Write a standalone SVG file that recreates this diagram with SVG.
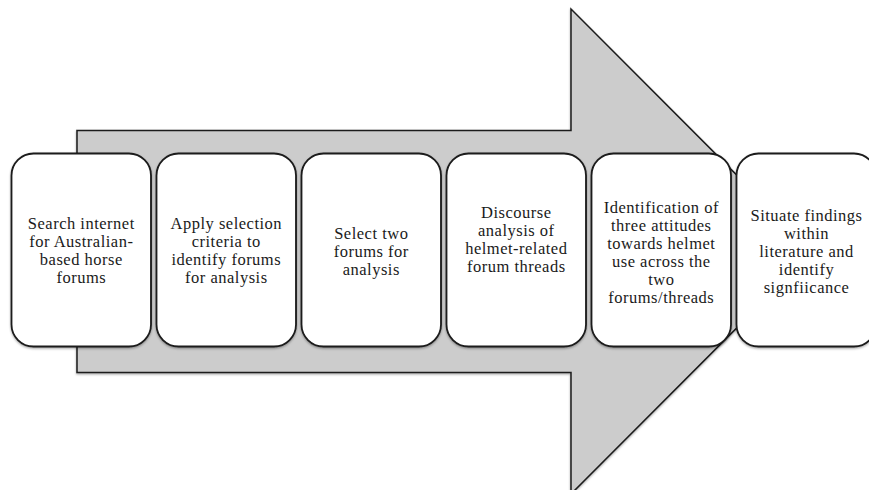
<svg xmlns="http://www.w3.org/2000/svg" width="869" height="490" viewBox="0 0 869 490">
<style>
.box{fill:#ffffff;stroke:#1a1a1a;stroke-width:1.8}
.arrow{fill:#cccccc;stroke:#1a1a1a;stroke-width:1.5;stroke-linejoin:miter}
text{font-family:"Liberation Serif","Times New Roman",serif;font-size:16.5px;letter-spacing:0.5px;fill:#1a1a1a;text-anchor:middle}
</style>
<defs>
<filter id="sh" x="-10%" y="-10%" width="120%" height="120%">
<feDropShadow dx="0" dy="1.2" stdDeviation="1" flood-color="#000" flood-opacity="0.35"/>
</filter>
</defs>
<g id="connectors">
<path class="arrow" filter="url(#sh)" d="M77,130.5 L571,130.5 L571,9 L813,251.5 L571,494 L571,372.5 L77,372.5 Z"/>
</g>
<g id="n1">
<rect class="box" filter="url(#sh)" x="11.5" y="153.5" width="139.5" height="193" rx="22" ry="22"/>
<text x="81.3" y="229">Search internet</text>
<text x="81.3" y="247">for Australian-</text>
<text x="81.3" y="265">based horse</text>
<text x="81.3" y="283">forums</text>
</g>
<g id="n2">
<rect class="box" filter="url(#sh)" x="156.5" y="153.5" width="139.5" height="193" rx="22" ry="22"/>
<text x="226.3" y="229">Apply selection</text>
<text x="226.3" y="247">criteria to</text>
<text x="226.3" y="265">identify forums</text>
<text x="226.3" y="283">for analysis</text>
</g>
<g id="n3">
<rect class="box" filter="url(#sh)" x="301.5" y="153.5" width="139.5" height="193" rx="22" ry="22"/>
<text x="371.3" y="239">Select two</text>
<text x="371.3" y="257">forums for</text>
<text x="371.3" y="275">analysis</text>
</g>
<g id="n4">
<rect class="box" filter="url(#sh)" x="446.5" y="153.5" width="139.5" height="193" rx="22" ry="22"/>
<text x="516.3" y="217.5">Discourse</text>
<text x="516.3" y="235.5">analysis of</text>
<text x="516.3" y="253.5">helmet-related</text>
<text x="516.3" y="271.5">forum threads</text>
</g>
<g id="n5">
<rect class="box" filter="url(#sh)" x="591.5" y="153.5" width="139.5" height="193" rx="22" ry="22"/>
<text x="661.3" y="212.5">Identification of</text>
<text x="661.3" y="230.5">three attitudes</text>
<text x="661.3" y="248.5">towards helmet</text>
<text x="661.3" y="266.5">use across the</text>
<text x="661.3" y="284.5">two</text>
<text x="661.3" y="302.5">forums/threads</text>
</g>
<g id="n6">
<rect class="box" filter="url(#sh)" x="736.5" y="153.5" width="139.5" height="193" rx="22" ry="22"/>
<text x="806.5" y="221">Situate findings</text>
<text x="806.5" y="239">within</text>
<text x="806.5" y="257">literature and</text>
<text x="806.5" y="275">identify</text>
<text x="806.5" y="293">signfiicance</text>
</g>
</svg>
